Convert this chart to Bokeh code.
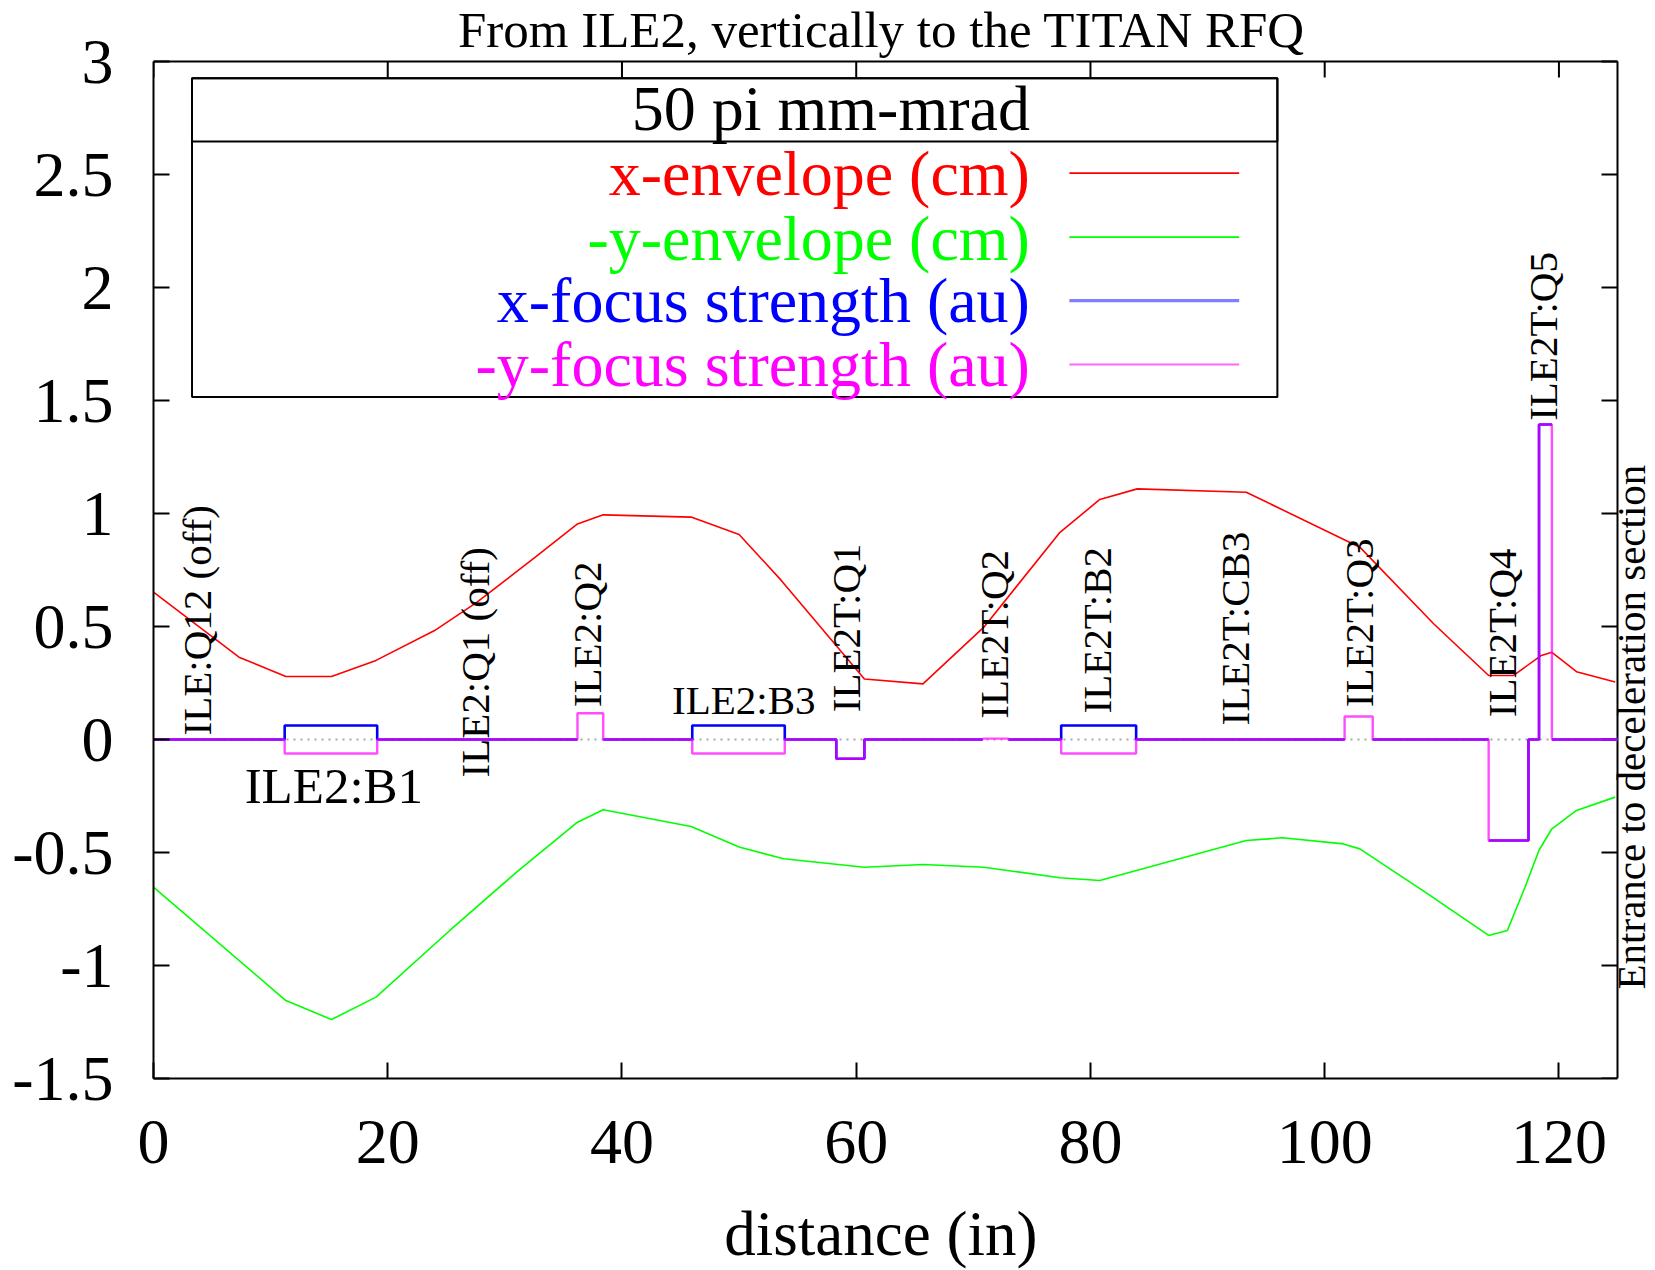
import math
from bokeh.plotting import figure
from bokeh.models import Label, BoxAnnotation, FixedTicker, Range1d
from bokeh.embed import file_html
from bokeh.resources import INLINE

# ---------------- data ----------------
# x-envelope (cm) vs distance (in)
xenv_dist = [0, 7.3, 11.3, 15.2, 19.0, 24.0, 27.6, 32.6, 36.2, 38.4, 45.9, 50.0, 53.6,
             60.7, 65.7, 70.9, 77.4, 80.8, 84.0, 93.3, 103.0, 109.3, 114.0, 116.1,
             118.5, 119.4, 121.5, 124.8]
xenv_val = [0.652, 0.364, 0.279, 0.279, 0.35, 0.482, 0.607, 0.807, 0.954, 0.994, 0.984,
            0.907, 0.704, 0.268, 0.246, 0.497, 0.917, 1.062, 1.109, 1.094, 0.851, 0.512,
            0.283, 0.283, 0.372, 0.386, 0.30, 0.254]

# -y-envelope (cm) vs distance (in)
yenv_dist = [0, 11.3, 15.2, 19.0, 25.3, 31.0, 36.2, 38.4, 45.9, 50.0, 53.8, 60.7, 65.7,
             70.9, 77.4, 80.8, 93.3, 96.4, 101.6, 103.0, 108.8, 114.0, 115.6, 117.1,
             118.3, 119.4, 121.5, 124.8]
yenv_val = [-0.653, -1.155, -1.239, -1.14, -0.845, -0.587, -0.366, -0.311, -0.385, -0.476,
            -0.528, -0.565, -0.553, -0.565, -0.612, -0.624, -0.447, -0.435, -0.462,
            -0.484, -0.683, -0.867, -0.845, -0.654, -0.49, -0.395, -0.314, -0.255]

# beamline elements: start / end (in), focus strengths (au)
elem_start = [11.2, 36.2, 46.0, 58.3, 70.8, 77.5, 101.7, 114.0, 118.3]
elem_end = [19.1, 38.4, 53.9, 60.7, 73.0, 83.9, 104.1, 117.4, 119.4]
xfocus_val = [0.062, None, 0.062, -0.085, None, 0.062, None, -0.447, 1.394]
negy_focus_val = [-0.062, 0.116, -0.062, -0.085, 0.004, -0.062, 0.102, -0.447, 1.394]
xfocus_left_edge = [True, False, True, True, False, True, False, False, True]
xfocus_right_edge = [True, False, True, True, False, True, False, True, False]
beam_start = 0.0
beam_end = 125.0

x_min, x_max = 0.0, 125.0
y_min, y_max = -1.5, 3.0
x_ticks = [0, 20, 40, 60, 80, 100, 120]
y_ticks = [-1.5, -1, -0.5, 0, 0.5, 1, 1.5, 2, 2.5, 3]
y_tick_labels = ["-1.5", "-1", "-0.5", "0", "0.5", "1", "1.5", "2", "2.5", "3"]

rot_labels = ["ILE:Q12 (off)", "ILE2:Q1 (off)", "ILE2:Q2", "ILE2T:Q1", "ILE2T:Q2",
              "ILE2T:B2", "ILE2T:CB3", "ILE2T:Q3", "ILE2T:Q4", "ILE2T:Q5"]
rot_label_x = [3.75, 27.45, 37.05, 59.15, 71.75, 80.55, 92.35, 102.95, 115.15, 118.65]
rot_label_y = [0.018, -0.168, 0.143, 0.121, 0.092, 0.115, 0.062, 0.143, 0.099, 1.41]

series_names = ["x-envelope (cm)", "-y-envelope (cm)", "x-focus strength (au)",
                "-y-focus strength (au)"]
series_colors = ["#ff0000", "#00ff00", "#0000ff", "#ff00ff"]

FONT = "Liberation Serif"
NBSP = "\u00a0"

# ---------------- layout (pixels) ----------------
BOX_W, BOX_H = 1464, 1017          # the axes box
LEFT, TOP, RIGHT_PAD, BOTTOM = 153, 61, 38, 192
px_x = BOX_W / (x_max - x_min)
px_y = BOX_H / (y_max - y_min)
frame_w = BOX_W + RIGHT_PAD
frame_h = BOX_H + TOP

p = figure(frame_width=frame_w, frame_height=frame_h, output_backend="svg",
           toolbar_location=None,
           x_range=Range1d(x_min, x_min + frame_w / px_x),
           y_range=Range1d(y_min, y_min + frame_h / px_y),
           min_border_left=LEFT, min_border_right=0, min_border_top=0,
           min_border_bottom=BOTTOM)
p.background_fill_color = "white"
p.border_fill_color = "white"
p.outline_line_color = None
p.grid.visible = False

TICK = 16
xa = p.xaxis[0]
ya = p.yaxis[0]
for ax in (xa, ya):
    ax.axis_line_color = "black"
    ax.axis_line_width = 2
    ax.major_tick_in = TICK
    ax.major_tick_out = 0
    ax.major_tick_line_width = 2
    ax.major_tick_line_color = "black"
    ax.minor_tick_line_color = None
    ax.major_label_text_font = FONT
    ax.major_label_text_color = "black"
    ax.major_label_text_font_size = "64px"
xa.ticker = FixedTicker(ticks=x_ticks)
ya.ticker = FixedTicker(ticks=y_ticks)
xa.bounds = (x_min, x_max)
ya.bounds = (y_min, y_max)
ya.major_label_overrides = {t: s for t, s in zip(y_ticks, y_tick_labels)}
xa.major_label_standoff = 42
ya.major_label_standoff = 40
# trailing no-break spaces re-centre the label on the axes box (not the wider frame)
xa.axis_label = "distance (in)" + NBSP * 3
xa.axis_label_text_font = FONT
xa.axis_label_text_font_size = "63px"
xa.axis_label_text_font_style = "normal"
xa.axis_label_text_color = "black"
xa.axis_label_standoff = 33

# top and right sides of the box, with mirrored ticks
p.segment(x0=[x_min, x_max], y0=[y_max, y_min], x1=[x_max, x_max], y1=[y_max, y_max],
          line_color="black", line_width=2)
p.segment(x0=[x_max - TICK / px_x] * len(y_ticks), x1=[x_max] * len(y_ticks),
          y0=y_ticks, y1=y_ticks, line_color="black", line_width=2)
p.segment(x0=x_ticks, x1=x_ticks, y0=[y_max - TICK / px_y] * len(x_ticks),
          y1=[y_max] * len(x_ticks), line_color="black", line_width=2)

# zero axis (dotted grey)
p.segment(x0=[x_min], x1=[x_max], y0=[0], y1=[0], line_color="#a8a8a8", line_width=2,
          line_dash="2 5")

# envelopes
p.line(xenv_dist, xenv_val, line_color=series_colors[0], line_width=1.6)
p.line(yenv_dist, yenv_val, line_color=series_colors[1], line_width=1.6)

# focus strength step profiles
nan = float("nan")
nx, ny = [beam_start], [0.0]
for s, e, v in zip(elem_start, elem_end, negy_focus_val):
    nx += [s, s, e, e]
    ny += [0.0, v, v, 0.0]
nx.append(beam_end); ny.append(0.0)

fx, fy = [beam_start], [0.0]
for s, e, v, le, re in zip(elem_start, elem_end, xfocus_val, xfocus_left_edge, xfocus_right_edge):
    if v is None:
        fx += [s, nan, e]
        fy += [0.0, nan, 0.0]
        continue
    if le:
        fx += [s, s]; fy += [0.0, v]
    else:
        fx += [s, nan, s]; fy += [0.0, nan, v]
    if re:
        fx += [e, e]; fy += [v, 0.0]
    else:
        fx += [e, nan, e]; fy += [v, nan, 0.0]
fx.append(beam_end); fy.append(0.0)

p.line(fx, fy, line_color=series_colors[2], line_width=2.6)
p.line(nx, ny, line_color=series_colors[3], line_width=2.4, line_alpha=0.7)

# element labels
for t, x, y in zip(rot_labels, rot_label_x, rot_label_y):
    p.add_layout(Label(x=x, y=y, text=t, angle=math.pi / 2, text_align="left",
                       text_baseline="middle", text_font=FONT, text_font_size="41px",
                       text_color="black"))
p.add_layout(Label(x=15.4, y=-0.205, text="ILE2:B1", text_align="center",
                   text_baseline="alphabetic", text_font=FONT, text_font_size="51px",
                   text_color="black"))
p.add_layout(Label(x=50.4, y=0.173, text="ILE2:B3", text_align="center",
                   text_baseline="alphabetic", text_font=FONT, text_font_size="41px",
                   text_color="black"))
p.add_layout(Label(x=126.15, y=-1.106, text="Entrance to deceleration section",
                   angle=math.pi / 2, text_align="left", text_baseline="middle",
                   text_font=FONT, text_font_size="41px", text_color="black"))

# title
p.add_layout(Label(x=62.16, y=3.141, text="From ILE2, vertically to the TITAN RFQ",
                   text_align="center", text_baseline="alphabetic", text_font=FONT,
                   text_font_size="51px", text_color="black"))

# legend (drawn by hand, gnuplot style)
leg_left, leg_right, leg_top, leg_sep, leg_bottom = 3.29, 95.96, 2.926, 2.646, 1.515
p.add_layout(BoxAnnotation(left=leg_left, right=leg_right, top=leg_top, bottom=leg_bottom,
                           fill_color=None, line_color="black", line_alpha=1.0,
                           line_width=2))
p.add_layout(BoxAnnotation(left=leg_left, right=leg_right, top=leg_top, bottom=leg_sep,
                           fill_color=None, line_color="black", line_alpha=1.0,
                           line_width=2))
text_right = 74.83
p.add_layout(Label(x=text_right, y=2.793, text="50 pi mm-mrad", text_align="right",
                   text_baseline="alphabetic", text_font=FONT, text_font_size="64px",
                   text_color="black"))
entry_base = [2.506, 2.217, 1.941, 1.661]
sample_y = [2.506, 2.223, 1.942, 1.659]
sample_w = [1.6, 1.6, 3.2, 2.0]
sample_a = [1.0, 1.0, 0.5, 0.6]
for name, col, b, sy, w, a in zip(series_names, series_colors, entry_base, sample_y,
                                  sample_w, sample_a):
    p.add_layout(Label(x=text_right, y=b, text=name, text_align="right",
                       text_baseline="alphabetic", text_font=FONT, text_font_size="64px",
                       text_color=col))
    p.segment(x0=[78.2], x1=[92.7], y0=[sy], y1=[sy], line_color=col, line_width=w,
              line_alpha=a)

open("out.html", "w").write(file_html(p, INLINE))
